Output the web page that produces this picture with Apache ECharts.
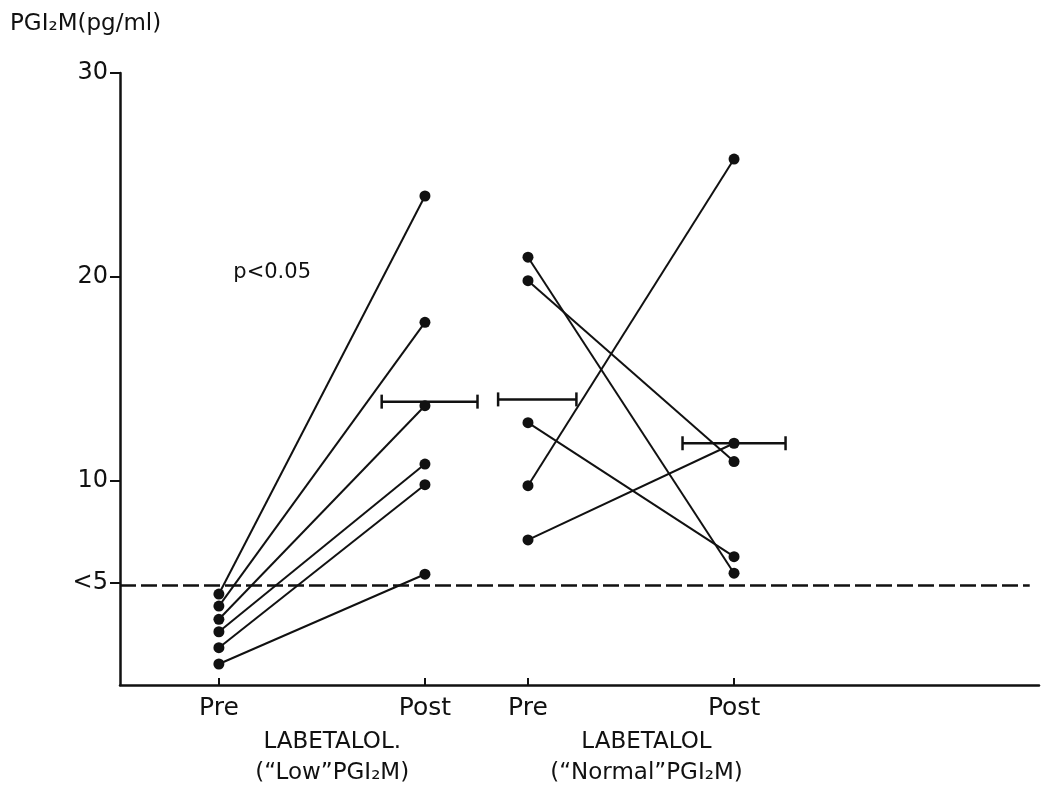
<!DOCTYPE html>
<html><head><meta charset="utf-8">
<script src="https://cdn.jsdelivr.net/npm/echarts@6/dist/echarts.min.js"></script>
<style>html,body{margin:0;padding:0;background:#fff}#c{width:1043px;height:790px}</style>
</head><body><div id="c"></div>
<script>
// ---- data ----
const timepoints = ['Pre', 'Post', 'Pre', 'Post'];
const timepointX = [0, 2, 3, 5];
const groupNames = ['LABETALOL.', 'LABETALOL'];
const groupSubs = ['(\u201CLow\u201DPGI\u2082M)', '(\u201CNormal\u201DPGI\u2082M)'];
const groupCenterX = [1.1, 4.15];
const lowPre = [4.46, 3.87, 3.22, 2.61, 1.83, 1.03];
const lowPost = [23.97, 17.78, 13.69, 10.83, 9.82, 5.43];
const normalPre = [20.97, 19.82, 12.86, 9.77, 7.11];
const normalPost = [5.48, 10.95, 6.29, 25.78, 11.85];
const barLeft = [1.58, 2.71, 4.50];
const barRight = [2.51, 3.47, 5.50];
const barValue = [13.89, 14.0, 11.85];
const yTicks = [5, 10, 20, 30];
const yTickLabels = ['<5', '10', '20', '30'];
const limitValue = 4.9;
const pText = 'p<0.05';
const pPos = [0.14, 20.2];

// ---- chart ----
const FONT = 'DejaVu Sans';
const INK = '#111';
const X_MIN = -0.96, X_MAX = 7.96;
const chart = echarts.init(document.getElementById('c'), null, {renderer: 'canvas'});

const series = [];
function addSubject(x0, v0, x1, v1) {
  series.push({
    type: 'line', data: [[x0, v0], [x1, v1]],
    symbol: 'circle', symbolSize: 11,
    lineStyle: {color: INK, width: 2},
    itemStyle: {color: INK},
    silent: true, z: 3
  });
}
lowPre.forEach((v, i) => addSubject(timepointX[0], v, timepointX[1], lowPost[i]));
normalPre.forEach((v, i) => addSubject(timepointX[2], v, timepointX[3], normalPost[i]));

series.push({
  type: 'custom',
  data: barValue.map((v, i) => [barLeft[i], barRight[i], v]),
  renderItem: function (params, api) {
    const l = api.coord([api.value(0), api.value(2)]);
    const r = api.coord([api.value(1), api.value(2)]);
    const st = {stroke: INK, lineWidth: 2.5};
    const h = 7;
    return {type: 'group', children: [
      {type: 'line', shape: {x1: l[0], y1: l[1], x2: r[0], y2: r[1]}, style: st},
      {type: 'line', shape: {x1: l[0], y1: l[1] - h, x2: l[0], y2: l[1] + h}, style: st},
      {type: 'line', shape: {x1: r[0], y1: r[1] - h, x2: r[0], y2: r[1] + h}, style: st}
    ]};
  },
  silent: true, z: 4
});

series.push({
  type: 'line', data: [], silent: true,
  markLine: {
    silent: true, symbol: ['none', 'none'], animation: false,
    label: {show: false},
    lineStyle: {color: INK, width: 2.5, type: [16, 5]},
    data: [[{coord: [X_MIN, limitValue]}, {coord: [7.87, limitValue]}]]
  }
});

chart.setOption({
  animation: false,
  backgroundColor: '#fff',
  title: {
    text: 'PGI\u2082M(pg/ml)', left: 5, top: 8,
    textStyle: {fontFamily: FONT, fontSize: 23, fontWeight: 'normal', color: INK}
  },
  grid: {left: 120, right: 4, top: 73, bottom: 105, containLabel: false},
  xAxis: {
    type: 'value', min: X_MIN, max: X_MAX,
    axisLine: {show: true, onZero: false, lineStyle: {color: INK, width: 2.5}},
    axisTick: {show: true, inside: true, length: 7, customValues: timepointX, lineStyle: {color: INK, width: 2}},
    axisLabel: {
      show: true, customValues: timepointX, margin: 11,
      formatter: v => timepoints[timepointX.indexOf(v)] || '',
      fontFamily: FONT, fontSize: 25, color: INK
    },
    splitLine: {show: false}
  },
  yAxis: {
    type: 'value', min: 0, max: 30,
    axisLine: {show: true, onZero: false, lineStyle: {color: INK, width: 2.5}},
    axisTick: {show: true, length: 10, customValues: yTicks, lineStyle: {color: INK, width: 2}},
    axisLabel: {
      show: true, customValues: yTicks, margin: 12,
      formatter: v => yTickLabels[yTicks.indexOf(v)] || '',
      fontFamily: FONT, fontSize: 24, color: INK
    },
    splitLine: {show: false}
  },
  series: series
});

// annotations anchored to data coordinates
const graphics = [];
const axisY = chart.convertToPixel({gridIndex: 0}, [0, 0])[1];
groupNames.forEach((name, i) => {
  const cx = chart.convertToPixel({gridIndex: 0}, [groupCenterX[i], 0])[0];
  graphics.push({type: 'text', x: cx, y: axisY + 57, style: {text: name, fontFamily: FONT, fontSize: 23, fill: INK, align: 'center', verticalAlign: 'middle'}});
  graphics.push({type: 'text', x: cx, y: axisY + 88, style: {text: groupSubs[i], fontFamily: FONT, fontSize: 23, fill: INK, align: 'center', verticalAlign: 'middle'}});
});
const pp = chart.convertToPixel({gridIndex: 0}, pPos);
graphics.push({type: 'text', x: pp[0], y: pp[1], style: {text: pText, fontFamily: FONT, fontSize: 21, fill: INK, align: 'left', verticalAlign: 'middle'}});
chart.setOption({graphic: graphics});
</script>
</body></html>
